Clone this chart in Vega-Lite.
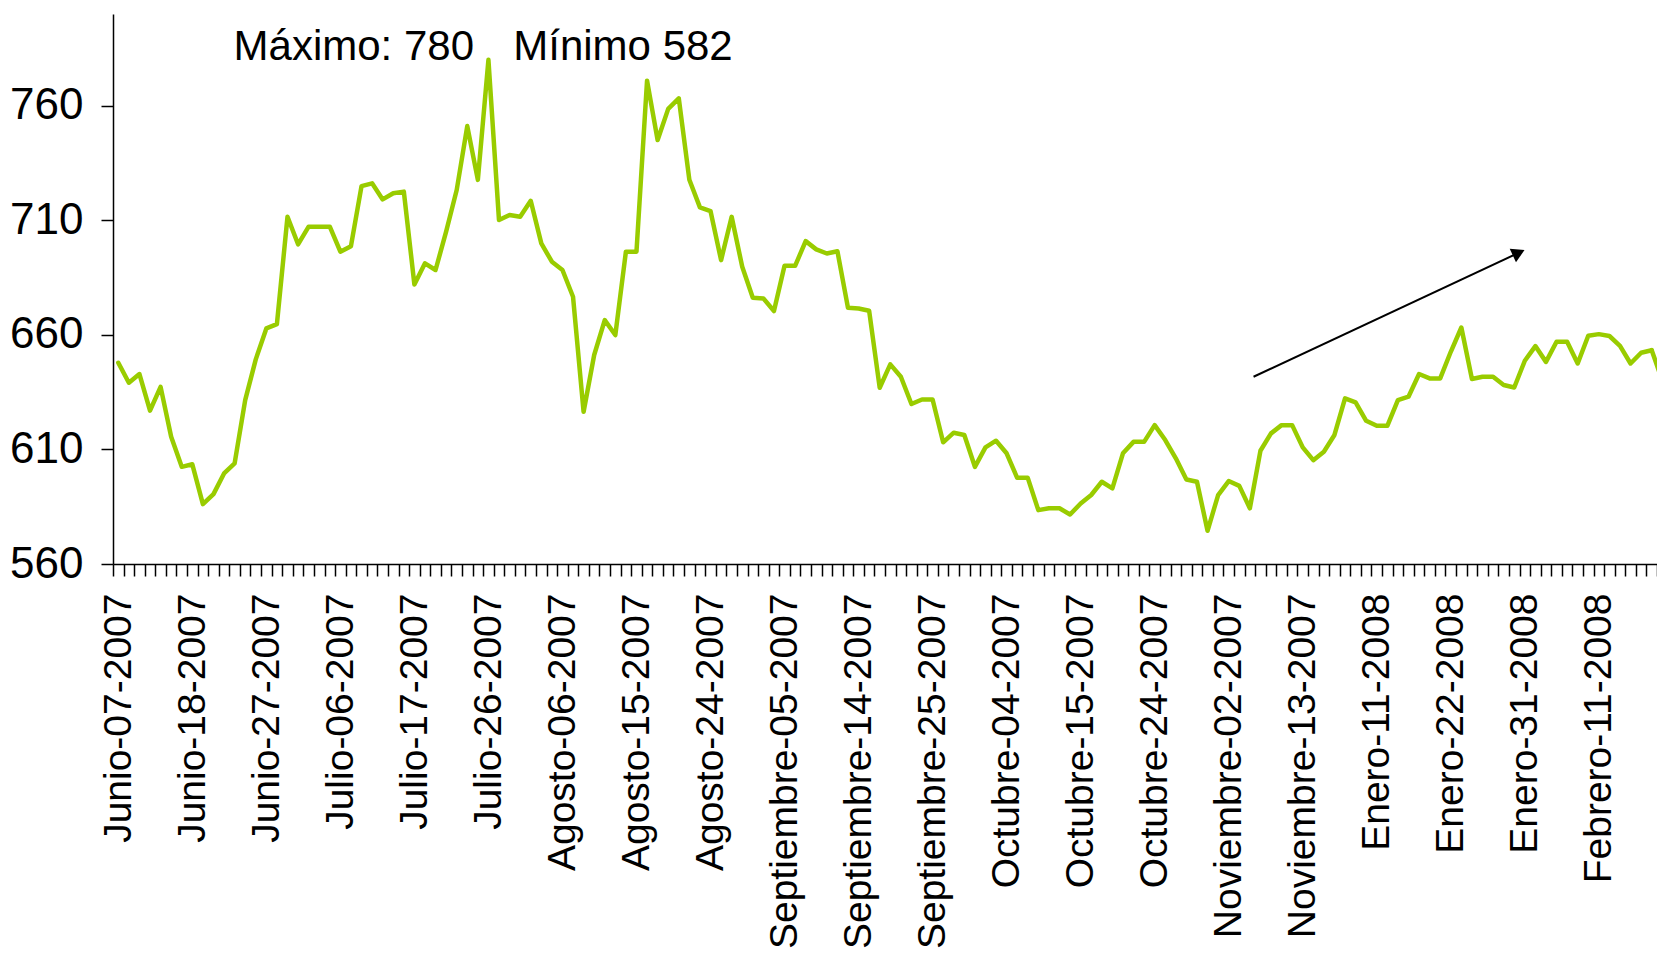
{
  "$schema": "https://vega.github.io/schema/vega-lite/v6.json",
  "width": 1544,
  "height": 550,
  "autosize": "none",
  "padding": {"left": 113, "top": 14, "right": 0, "bottom": 391},
  "background": "white",
  "config": {
    "view": {"stroke": null},
    "axis": {"grid": false, "domainColor": "#000000", "tickColor": "#000000", "labelColor": "#000000", "labelFont": "Liberation Sans", "domainWidth": 1.5, "tickWidth": 1.5}
  },
  "datasets": {
    "serie": [
      {"i": 0, "fecha": "Junio-07-2007", "valor": 647.8},
      {"i": 1, "fecha": "Junio-08-2007", "valor": 639.1},
      {"i": 2, "fecha": "Junio-11-2007", "valor": 642.9},
      {"i": 3, "fecha": "Junio-12-2007", "valor": 626.9},
      {"i": 4, "fecha": "Junio-13-2007", "valor": 637.3},
      {"i": 5, "fecha": "Junio-14-2007", "valor": 615.5},
      {"i": 6, "fecha": "Junio-15-2007", "valor": 602.4},
      {"i": 7, "fecha": "Junio-18-2007", "valor": 603.5},
      {"i": 8, "fecha": "Junio-19-2007", "valor": 586.1},
      {"i": 9, "fecha": "Junio-20-2007", "valor": 590.5},
      {"i": 10, "fecha": "Junio-21-2007", "valor": 599.5},
      {"i": 11, "fecha": "Junio-22-2007", "valor": 603.9},
      {"i": 12, "fecha": "Junio-25-2007", "valor": 631.5},
      {"i": 13, "fecha": "Junio-26-2007", "valor": 649.3},
      {"i": 14, "fecha": "Junio-27-2007", "valor": 662.8},
      {"i": 15, "fecha": "Junio-28-2007", "valor": 664.7},
      {"i": 16, "fecha": "Junio-29-2007", "valor": 711.5},
      {"i": 17, "fecha": "Julio-02-2007", "valor": 699.5},
      {"i": 18, "fecha": "Julio-03-2007", "valor": 707.2},
      {"i": 19, "fecha": "Julio-04-2007", "valor": 707.2},
      {"i": 20, "fecha": "Julio-05-2007", "valor": 707.2},
      {"i": 21, "fecha": "Julio-06-2007", "valor": 696.3},
      {"i": 22, "fecha": "Julio-09-2007", "valor": 698.7},
      {"i": 23, "fecha": "Julio-10-2007", "valor": 724.9},
      {"i": 24, "fecha": "Julio-11-2007", "valor": 726.1},
      {"i": 25, "fecha": "Julio-12-2007", "valor": 719.1},
      {"i": 26, "fecha": "Julio-13-2007", "valor": 721.8},
      {"i": 27, "fecha": "Julio-16-2007", "valor": 722.5},
      {"i": 28, "fecha": "Julio-17-2007", "valor": 682.0},
      {"i": 29, "fecha": "Julio-18-2007", "valor": 691.2},
      {"i": 30, "fecha": "Julio-19-2007", "valor": 688.3},
      {"i": 31, "fecha": "Julio-20-2007", "valor": 705.0},
      {"i": 32, "fecha": "Julio-23-2007", "valor": 723.2},
      {"i": 33, "fecha": "Julio-24-2007", "valor": 751.1},
      {"i": 34, "fecha": "Julio-25-2007", "valor": 727.6},
      {"i": 35, "fecha": "Julio-26-2007", "valor": 780.0},
      {"i": 36, "fecha": "Julio-27-2007", "valor": 710.1},
      {"i": 37, "fecha": "Julio-30-2007", "valor": 712.3},
      {"i": 38, "fecha": "Julio-31-2007", "valor": 711.5},
      {"i": 39, "fecha": "Agosto-01-2007", "valor": 718.5},
      {"i": 40, "fecha": "Agosto-02-2007", "valor": 699.9},
      {"i": 41, "fecha": "Agosto-03-2007", "valor": 691.9},
      {"i": 42, "fecha": "Agosto-06-2007", "valor": 688.3},
      {"i": 43, "fecha": "Agosto-07-2007", "valor": 676.6},
      {"i": 44, "fecha": "Agosto-08-2007", "valor": 626.4},
      {"i": 45, "fecha": "Agosto-09-2007", "valor": 651.2},
      {"i": 46, "fecha": "Agosto-10-2007", "valor": 666.4},
      {"i": 47, "fecha": "Agosto-13-2007", "valor": 659.9},
      {"i": 48, "fecha": "Agosto-14-2007", "valor": 696.3},
      {"i": 49, "fecha": "Agosto-15-2007", "valor": 696.3},
      {"i": 50, "fecha": "Agosto-16-2007", "valor": 770.9},
      {"i": 51, "fecha": "Agosto-17-2007", "valor": 745.0},
      {"i": 52, "fecha": "Agosto-20-2007", "valor": 758.6},
      {"i": 53, "fecha": "Agosto-21-2007", "valor": 763.2},
      {"i": 54, "fecha": "Agosto-22-2007", "valor": 727.7},
      {"i": 55, "fecha": "Agosto-23-2007", "valor": 715.6},
      {"i": 56, "fecha": "Agosto-24-2007", "valor": 714.0},
      {"i": 57, "fecha": "Agosto-27-2007", "valor": 692.6},
      {"i": 58, "fecha": "Agosto-28-2007", "valor": 711.5},
      {"i": 59, "fecha": "Agosto-29-2007", "valor": 689.7},
      {"i": 60, "fecha": "Agosto-30-2007", "valor": 676.2},
      {"i": 61, "fecha": "Agosto-31-2007", "valor": 675.9},
      {"i": 62, "fecha": "Septiembre-04-2007", "valor": 670.4},
      {"i": 63, "fecha": "Septiembre-05-2007", "valor": 690.1},
      {"i": 64, "fecha": "Septiembre-06-2007", "valor": 690.1},
      {"i": 65, "fecha": "Septiembre-07-2007", "valor": 700.9},
      {"i": 66, "fecha": "Septiembre-10-2007", "valor": 697.3},
      {"i": 67, "fecha": "Septiembre-11-2007", "valor": 695.5},
      {"i": 68, "fecha": "Septiembre-12-2007", "valor": 696.5},
      {"i": 69, "fecha": "Septiembre-13-2007", "valor": 671.8},
      {"i": 70, "fecha": "Septiembre-14-2007", "valor": 671.5},
      {"i": 71, "fecha": "Septiembre-17-2007", "valor": 670.5},
      {"i": 72, "fecha": "Septiembre-18-2007", "valor": 636.9},
      {"i": 73, "fecha": "Septiembre-19-2007", "valor": 647.1},
      {"i": 74, "fecha": "Septiembre-20-2007", "valor": 641.7},
      {"i": 75, "fecha": "Septiembre-21-2007", "valor": 629.8},
      {"i": 76, "fecha": "Septiembre-24-2007", "valor": 631.8},
      {"i": 77, "fecha": "Septiembre-25-2007", "valor": 631.8},
      {"i": 78, "fecha": "Septiembre-26-2007", "valor": 613.1},
      {"i": 79, "fecha": "Septiembre-27-2007", "valor": 617.3},
      {"i": 80, "fecha": "Septiembre-28-2007", "valor": 616.3},
      {"i": 81, "fecha": "Octubre-01-2007", "valor": 602.4},
      {"i": 82, "fecha": "Octubre-02-2007", "valor": 610.9},
      {"i": 83, "fecha": "Octubre-03-2007", "valor": 613.8},
      {"i": 84, "fecha": "Octubre-04-2007", "valor": 608.3},
      {"i": 85, "fecha": "Octubre-05-2007", "valor": 597.6},
      {"i": 86, "fecha": "Octubre-08-2007", "valor": 597.6},
      {"i": 87, "fecha": "Octubre-09-2007", "valor": 583.5},
      {"i": 88, "fecha": "Octubre-10-2007", "valor": 584.3},
      {"i": 89, "fecha": "Octubre-11-2007", "valor": 584.3},
      {"i": 90, "fecha": "Octubre-12-2007", "valor": 581.6},
      {"i": 91, "fecha": "Octubre-15-2007", "valor": 586.4},
      {"i": 92, "fecha": "Octubre-16-2007", "valor": 590.1},
      {"i": 93, "fecha": "Octubre-17-2007", "valor": 595.9},
      {"i": 94, "fecha": "Octubre-18-2007", "valor": 593.0},
      {"i": 95, "fecha": "Octubre-19-2007", "valor": 608.3},
      {"i": 96, "fecha": "Octubre-22-2007", "valor": 613.3},
      {"i": 97, "fecha": "Octubre-23-2007", "valor": 613.3},
      {"i": 98, "fecha": "Octubre-24-2007", "valor": 620.6},
      {"i": 99, "fecha": "Octubre-25-2007", "valor": 614.1},
      {"i": 100, "fecha": "Octubre-26-2007", "valor": 606.1},
      {"i": 101, "fecha": "Octubre-29-2007", "valor": 596.9},
      {"i": 102, "fecha": "Octubre-30-2007", "valor": 595.9},
      {"i": 103, "fecha": "Octubre-31-2007", "valor": 574.5},
      {"i": 104, "fecha": "Noviembre-01-2007", "valor": 590.1},
      {"i": 105, "fecha": "Noviembre-02-2007", "valor": 596.2},
      {"i": 106, "fecha": "Noviembre-05-2007", "valor": 594.1},
      {"i": 107, "fecha": "Noviembre-06-2007", "valor": 584.3},
      {"i": 108, "fecha": "Noviembre-07-2007", "valor": 609.4},
      {"i": 109, "fecha": "Noviembre-08-2007", "valor": 617.0},
      {"i": 110, "fecha": "Noviembre-09-2007", "valor": 620.6},
      {"i": 111, "fecha": "Noviembre-12-2007", "valor": 620.6},
      {"i": 112, "fecha": "Noviembre-13-2007", "valor": 610.9},
      {"i": 113, "fecha": "Enero-03-2008", "valor": 605.3},
      {"i": 114, "fecha": "Enero-04-2008", "valor": 609.0},
      {"i": 115, "fecha": "Enero-07-2008", "valor": 616.3},
      {"i": 116, "fecha": "Enero-08-2008", "valor": 632.3},
      {"i": 117, "fecha": "Enero-09-2008", "valor": 630.5},
      {"i": 118, "fecha": "Enero-10-2008", "valor": 622.5},
      {"i": 119, "fecha": "Enero-11-2008", "valor": 620.3},
      {"i": 120, "fecha": "Enero-14-2008", "valor": 620.3},
      {"i": 121, "fecha": "Enero-15-2008", "valor": 631.5},
      {"i": 122, "fecha": "Enero-16-2008", "valor": 633.0},
      {"i": 123, "fecha": "Enero-17-2008", "valor": 642.9},
      {"i": 124, "fecha": "Enero-18-2008", "valor": 641.0},
      {"i": 125, "fecha": "Enero-21-2008", "valor": 641.0},
      {"i": 126, "fecha": "Enero-22-2008", "valor": 652.6},
      {"i": 127, "fecha": "Enero-23-2008", "valor": 663.2},
      {"i": 128, "fecha": "Enero-24-2008", "valor": 640.7},
      {"i": 129, "fecha": "Enero-25-2008", "valor": 641.7},
      {"i": 130, "fecha": "Enero-28-2008", "valor": 641.7},
      {"i": 131, "fecha": "Enero-29-2008", "valor": 638.1},
      {"i": 132, "fecha": "Enero-30-2008", "valor": 637.0},
      {"i": 133, "fecha": "Enero-31-2008", "valor": 648.7},
      {"i": 134, "fecha": "Febrero-01-2008", "valor": 655.1},
      {"i": 135, "fecha": "Febrero-04-2008", "valor": 648.2},
      {"i": 136, "fecha": "Febrero-05-2008", "valor": 657.0},
      {"i": 137, "fecha": "Febrero-06-2008", "valor": 657.0},
      {"i": 138, "fecha": "Febrero-07-2008", "valor": 647.5},
      {"i": 139, "fecha": "Febrero-08-2008", "valor": 659.6},
      {"i": 140, "fecha": "Febrero-11-2008", "valor": 660.3},
      {"i": 141, "fecha": "Febrero-12-2008", "valor": 659.5},
      {"i": 142, "fecha": "Febrero-13-2008", "valor": 655.2},
      {"i": 143, "fecha": "Febrero-14-2008", "valor": 647.5},
      {"i": 144, "fecha": "Febrero-15-2008", "valor": 652.2},
      {"i": 145, "fecha": "Febrero-18-2008", "valor": 653.3},
      {"i": 146, "fecha": "Febrero-19-2008", "valor": 640.0}
    ],
    "flecha": [
      {"i": 107.35, "valor": 641.7, "i2": 132.42, "valor2": 695.8}
    ],
    "textos": [
      {"texto": "Máximo: 780", "i": 10.9, "valor": 780},
      {"texto": "Mínimo 582", "i": 37.35, "valor": 780}
    ]
  },
  "layer": [
    {
      "data": {"name": "serie"},
      "transform": [{"filter": "datum.i <= 145"}],
      "mark": {"type": "line", "color": "#99CC00", "strokeWidth": 4.5, "strokeJoin": "round", "strokeCap": "round"},
      "encoding": {
        "x": {
          "field": "fecha", "type": "nominal", "sort": null, "title": null,
          "scale": {"type": "band", "paddingInner": 0, "paddingOuter": 0},
          "axis": {
            "tickBand": "extent", "tickSize": 12, "labelAngle": 270, "labelFontSize": 39, "labelPadding": 17,
            "labelOverlap": false, "labelBound": false, "labelFlush": false, "labelLimit": 500, "title": null,
            "labelExpr": "indexof(['Junio-07-2007','Junio-18-2007','Junio-27-2007','Julio-06-2007','Julio-17-2007','Julio-26-2007','Agosto-06-2007','Agosto-15-2007','Agosto-24-2007','Septiembre-05-2007','Septiembre-14-2007','Septiembre-25-2007','Octubre-04-2007','Octubre-15-2007','Octubre-24-2007','Noviembre-02-2007','Noviembre-13-2007','Enero-11-2008','Enero-22-2008','Enero-31-2008','Febrero-11-2008'], datum.value) >= 0 ? datum.label : ''"
          }
        },
        "y": {
          "field": "valor", "type": "quantitative", "title": null,
          "scale": {"domain": [560, 800], "zero": false, "nice": false},
          "axis": {"values": [560, 610, 660, 710, 760], "tickSize": 12, "labelFontSize": 44, "labelPadding": 18, "title": null}
        }
      }
    },
    {
      "layer": [
        {
          "data": {"name": "serie"},
          "transform": [{"filter": "datum.i >= 145"}],
          "mark": {"type": "line", "color": "#99CC00", "strokeWidth": 4.5, "strokeJoin": "round", "strokeCap": "round", "clip": true},
          "encoding": {
            "x": {"field": "i", "type": "quantitative", "title": null, "scale": {"domain": [-0.5, 145.5], "nice": false, "zero": false}, "axis": null},
            "y": {"field": "valor", "type": "quantitative", "title": null, "scale": {"domain": [560, 800], "zero": false, "nice": false}}
          }
        },
        {
          "data": {"name": "flecha"},
          "mark": {"type": "rule", "color": "#000000", "strokeWidth": 2},
          "encoding": {
            "x": {"field": "i", "type": "quantitative", "title": null, "scale": {"domain": [-0.5, 145.5], "nice": false, "zero": false}, "axis": null},
            "y": {"field": "valor", "type": "quantitative", "title": null, "scale": {"domain": [560, 800], "zero": false, "nice": false}},
            "x2": {"field": "i2"},
            "y2": {"field": "valor2"}
          }
        },
        {
          "data": {"name": "flecha"},
          "mark": {"type": "point", "shape": "triangle-right", "filled": true, "color": "#000000", "size": 220, "angle": 335, "opacity": 1},
          "encoding": {
            "x": {"field": "i2", "type": "quantitative", "title": null, "scale": {"domain": [-0.5, 145.5], "nice": false, "zero": false}, "axis": null},
            "y": {"field": "valor2", "type": "quantitative", "title": null, "scale": {"domain": [560, 800], "zero": false, "nice": false}}
          }
        },
        {
          "data": {"name": "textos"},
          "mark": {"type": "text", "align": "left", "baseline": "alphabetic", "font": "Liberation Sans", "fontSize": 42, "color": "#000000"},
          "encoding": {
            "x": {"field": "i", "type": "quantitative", "title": null, "scale": {"domain": [-0.5, 145.5], "nice": false, "zero": false}, "axis": null},
            "y": {"field": "valor", "type": "quantitative", "title": null, "scale": {"domain": [560, 800], "zero": false, "nice": false}},
            "text": {"field": "texto"}
          }
        }
      ]
    }
  ],
  "resolve": {"scale": {"x": "independent"}}
}
